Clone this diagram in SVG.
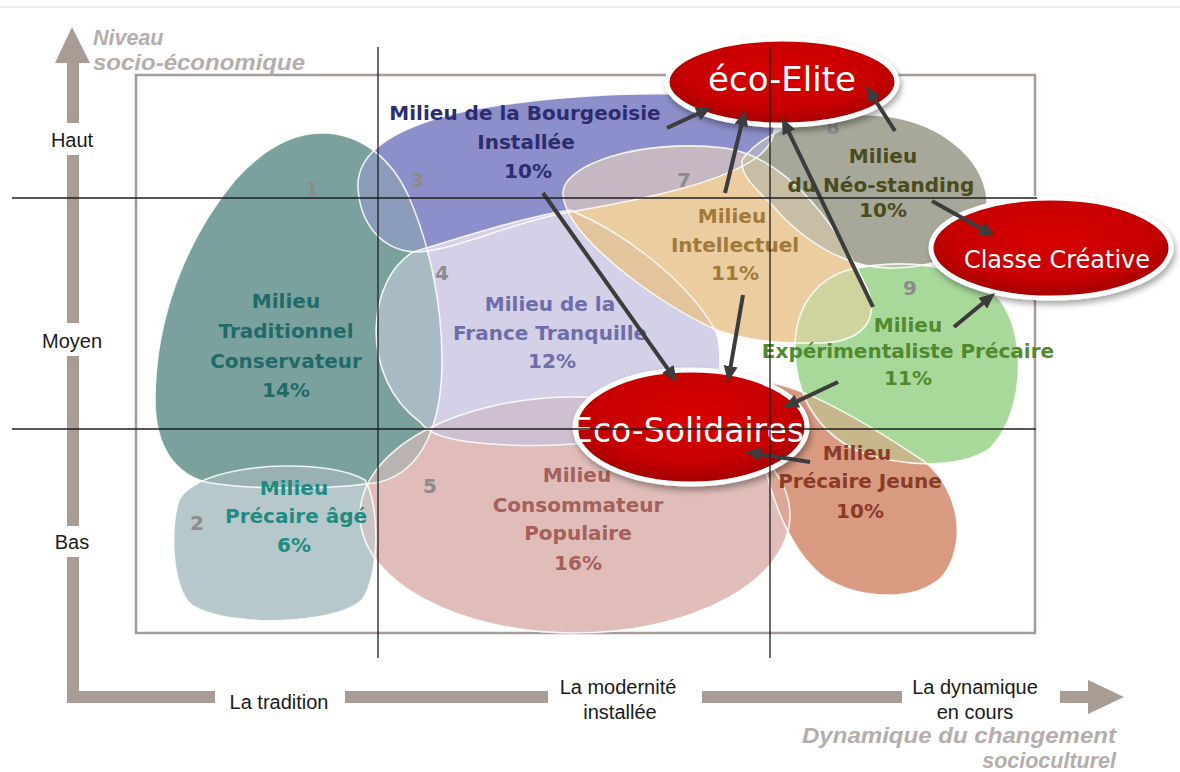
<svg xmlns="http://www.w3.org/2000/svg" xmlns:xlink="http://www.w3.org/1999/xlink" width="1180" height="772" viewBox="0 0 1180 772">
<style>
.lbl{font-family:"DejaVu Sans","Liberation Sans",sans-serif;font-weight:bold;font-size:20px;text-anchor:middle}
.num{font-family:"DejaVu Sans","Liberation Sans",sans-serif;font-weight:bold;font-size:20px;text-anchor:middle;fill:#8c8c8c}
.ax{font-family:"Liberation Sans",Arial,sans-serif;font-size:20px;fill:#1a1a1a;text-anchor:middle}
.axt{font-family:"Liberation Sans",Arial,sans-serif;font-weight:bold;font-style:italic;font-size:21.5px;fill:#b5adab}
.big{font-family:"DejaVu Sans","Liberation Sans",sans-serif;fill:#fff;text-anchor:middle}
.outline{fill:none;stroke:#fff;stroke-width:1.6;stroke-opacity:0.85}
.red{fill:url(#redg);stroke:#fff;stroke-width:5;filter:url(#sh)}
.axis{fill:#a89c95}
.grid{stroke:#1e1e1e;stroke-width:1.3}
.arrow{stroke:#3c3c3c;stroke-width:4;fill:none;marker-end:url(#ah)}
</style>
<defs>
<radialGradient id="redg" cx="50%" cy="40%" r="60%">
<stop offset="0" stop-color="#d80000"/>
<stop offset="0.7" stop-color="#c60000"/>
<stop offset="1" stop-color="#a00000"/>
</radialGradient>
<filter id="sh" x="-20%" y="-30%" width="140%" height="170%">
<feDropShadow dx="2" dy="4" stdDeviation="3" flood-color="#000" flood-opacity="0.35"/>
</filter>
<marker id="ah" viewBox="0 0 16 14" refX="4" refY="7" markerWidth="16" markerHeight="14" markerUnits="userSpaceOnUse" orient="auto">
<path d="M0,0 L16,7 L0,14 Z" fill="#3c3c3c"/>
</marker>
<path id="s1" d="M322,133 C362,133 392,160 408,195 C428,240 442,300 442,360 C442,420 425,470 380,482 C330,490 250,490 205,482 C170,472 155,440 155,400 C155,320 185,240 235,180 C262,150 292,133 322,133 Z"/>
<path id="s2" d="M200,482 C240,462 330,460 365,480 C380,505 380,575 362,600 C335,625 230,628 193,606 C170,590 170,520 180,498 C185,490 192,486 200,482 Z"/>
<path id="s3" d="M358,188 C356,150 400,125 470,110 C560,94 680,88 745,100 C780,108 782,135 760,155 C725,183 640,200 570,212 C510,222 460,250 415,252 C380,250 360,222 358,188 Z"/>
<path id="s4" d="M413,252 C460,238 520,218 570,210 C630,235 690,285 715,330 C722,345 722,380 712,400 C680,440 560,452 470,442 C440,438 428,432 420,422 C390,400 376,365 376,330 C377,292 392,265 413,252 Z"/>
<ellipse id="s5" cx="575" cy="515" rx="215" ry="118"/>
<path id="s6" d="M762,382 C800,383 870,425 925,462 C960,490 968,545 942,577 C915,602 860,600 825,578 C790,552 772,500 762,455 C756,420 755,390 762,382 Z"/>
<path id="s7" d="M563,195 C560,165 640,138 725,148 C790,158 840,230 868,290 C880,322 860,342 820,343 C770,344 735,338 712,328 C650,298 566,235 563,195 Z"/>
<path id="s8" d="M742,160 C765,128 820,113 872,115 C940,118 985,160 987,200 C988,240 955,266 895,268 C845,270 800,238 772,205 C755,188 740,175 742,160 Z"/>
<path id="s9" d="M848,270 C900,258 965,262 1000,300 C1030,340 1022,420 988,450 C955,470 900,466 860,452 C815,432 795,392 795,348 C795,308 815,280 848,270 Z"/>
<clipPath id="c1"><use xlink:href="#s1"/></clipPath>
<clipPath id="c3"><use xlink:href="#s3"/></clipPath>
<clipPath id="c4"><use xlink:href="#s4"/></clipPath>
<clipPath id="c5"><use xlink:href="#s5"/></clipPath>
<clipPath id="c7"><use xlink:href="#s7"/></clipPath>
<clipPath id="c8"><use xlink:href="#s8"/></clipPath>
<clipPath id="c9"><use xlink:href="#s9"/></clipPath>
</defs>
<rect width="1180" height="772" fill="#fff"/>
<line x1="0" y1="7" x2="1180" y2="7" stroke="#dcdcdc" stroke-width="1"/>
<g id="frame">
<rect x="136" y="75" width="899" height="558" fill="none" stroke="#a59d99" stroke-width="2.5"/>
</g>
<g id="axes">
<polygon class="axis" points="72,27 90,63 55,63"/>
<rect class="axis" x="67" y="62" width="12" height="61"/>
<rect class="axis" x="67" y="155" width="12" height="168"/>
<rect class="axis" x="67" y="356" width="12" height="170"/>
<rect class="axis" x="67" y="557" width="12" height="146"/>
<rect class="axis" x="67" y="691" width="148" height="12"/>
<rect class="axis" x="345" y="691" width="203" height="12"/>
<rect class="axis" x="702" y="691" width="200" height="12"/>
<rect class="axis" x="1060" y="691" width="30" height="12"/>
<polygon class="axis" points="1088,680 1124,697 1088,714"/>
<text class="axt" x="93" y="45">Niveau</text>
<text class="axt" x="93" y="70" textLength="212" lengthAdjust="spacingAndGlyphs">socio-économique</text>
<text class="ax" x="72" y="147">Haut</text>
<text class="ax" x="72" y="348">Moyen</text>
<text class="ax" x="72" y="549">Bas</text>
<text class="ax" x="279" y="709">La tradition</text>
<text class="ax" x="618" y="694">La modernité</text>
<text class="ax" x="620" y="719">installée</text>
<text class="ax" x="975" y="694">La dynamique</text>
<text class="ax" x="975" y="719">en cours</text>
<text class="axt" x="802" y="743" textLength="314" lengthAdjust="spacingAndGlyphs">Dynamique du changement</text>
<text class="axt" x="1116" y="768" text-anchor="end">socioculturel</text>
</g>
<g id="areas">
<use xlink:href="#s1" fill="#7ba19e"/>
<use xlink:href="#s3" fill="#8d8fcb"/>
<use xlink:href="#s4" fill="#d3d0e7"/>
<use xlink:href="#s5" fill="#e0bdb9"/>
<use xlink:href="#s2" fill="#b7c8cc"/>
<use xlink:href="#s7" fill="#ebcd9f"/>
<use xlink:href="#s8" fill="#a7a899"/>
<use xlink:href="#s9" fill="#a9d89b"/>
<use xlink:href="#s6" fill="#d99a82"/>
</g>
<g id="overlaps">
<use xlink:href="#s3" clip-path="url(#c1)" fill="#8a9cb9"/>
<use xlink:href="#s4" clip-path="url(#c1)" fill="#a8bbc5"/>
<use xlink:href="#s5" clip-path="url(#c1)" fill="#b9b3b1"/>
<use xlink:href="#s5" clip-path="url(#c4)" fill="#cfc0d1"/>
<use xlink:href="#s2" clip-path="url(#c1)" fill="#98b1b3"/>
<use xlink:href="#s2" clip-path="url(#c5)" fill="#cbc3c4"/>
<use xlink:href="#s7" clip-path="url(#c3)" fill="#c6b8c3"/>
<use xlink:href="#s7" clip-path="url(#c4)" fill="#e2c59c"/>
<use xlink:href="#s8" clip-path="url(#c3)" fill="#adaec6"/>
<use xlink:href="#s8" clip-path="url(#c7)" fill="#c8bea6"/>
<use xlink:href="#s9" clip-path="url(#c7)" fill="#cfd49f"/>
<use xlink:href="#s9" clip-path="url(#c8)" fill="#b3c4a2"/>
<use xlink:href="#s6" clip-path="url(#c5)" fill="#dca797"/>
<use xlink:href="#s6" clip-path="url(#c9)" fill="#c6b88b"/>
</g>
<g id="outlines">
<use xlink:href="#s1" class="outline"/>
<use xlink:href="#s2" class="outline"/>
<use xlink:href="#s3" class="outline"/>
<use xlink:href="#s4" class="outline"/>
<use xlink:href="#s5" class="outline"/>
<use xlink:href="#s6" class="outline"/>
<use xlink:href="#s7" class="outline"/>
<use xlink:href="#s8" class="outline"/>
<use xlink:href="#s9" class="outline"/>
</g>
<g id="milieu-1">
<text class="num" x="312" y="196">1</text>
<text class="lbl" fill="#1e6b68" x="286" y="308">Milieu</text>
<text class="lbl" fill="#1e6b68" x="286" y="338">Traditionnel</text>
<text class="lbl" fill="#1e6b68" x="286" y="368">Conservateur</text>
<text class="lbl" fill="#1e6b68" x="286" y="397">14%</text>
</g>
<g id="milieu-2">
<text class="num" x="197" y="530">2</text>
<text class="lbl" fill="#1f8c84" x="294" y="495">Milieu</text>
<text class="lbl" fill="#1f8c84" x="296" y="523">Précaire âgé</text>
<text class="lbl" fill="#1f8c84" x="294" y="552">6%</text>
</g>
<g id="milieu-3">
<text class="num" x="417" y="187">3</text>
<text class="lbl" fill="#2d2c6e" x="525" y="120">Milieu de la Bourgeoisie</text>
<text class="lbl" fill="#2d2c6e" x="526" y="149">Installée</text>
<text class="lbl" fill="#2d2c6e" x="528" y="178">10%</text>
</g>
<g id="milieu-4">
<text class="num" x="442" y="280">4</text>
<text class="lbl" fill="#6e6daa" x="550" y="311">Milieu de la</text>
<text class="lbl" fill="#6e6daa" x="550" y="340">France Tranquille</text>
<text class="lbl" fill="#6e6daa" x="552" y="368">12%</text>
</g>
<g id="milieu-5">
<text class="num" x="430" y="493">5</text>
<text class="lbl" fill="#a6605a" x="577" y="482">Milieu</text>
<text class="lbl" fill="#a6605a" x="578" y="512">Consommateur</text>
<text class="lbl" fill="#a6605a" x="578" y="540">Populaire</text>
<text class="lbl" fill="#a6605a" x="578" y="570">16%</text>
</g>
<g id="milieu-6">
<text class="lbl" fill="#8b3a28" x="857" y="460">Milieu</text>
<text class="lbl" fill="#8b3a28" x="860" y="488">Précaire Jeune</text>
<text class="lbl" fill="#8b3a28" x="860" y="518">10%</text>
</g>
<g id="milieu-7">
<text class="num" x="684" y="187">7</text>
<text class="lbl" fill="#a07a3a" x="732" y="223">Milieu</text>
<text class="lbl" fill="#a07a3a" x="735" y="252">Intellectuel</text>
<text class="lbl" fill="#a07a3a" x="735" y="280">11%</text>
</g>
<g id="milieu-8">
<text class="num" x="833" y="134">8</text>
<text class="lbl" fill="#4b4b1e" x="883" y="163">Milieu</text>
<text class="lbl" fill="#4b4b1e" x="881" y="192">du Néo-standing</text>
<text class="lbl" fill="#4b4b1e" x="883" y="217">10%</text>
</g>
<g id="milieu-9">
<text class="num" x="910" y="295">9</text>
<text class="lbl" fill="#4f8a2c" x="908" y="332">Milieu</text>
<text class="lbl" fill="#4f8a2c" x="908" y="358">Expérimentaliste Précaire</text>
<text class="lbl" fill="#4f8a2c" x="908" y="385">11%</text>
</g>
<g id="eco-elite">
<ellipse class="red" cx="782" cy="82" rx="115" ry="43"/>
<text class="big" x="782" y="91" font-size="34">éco-Elite</text>
</g>
<g id="classe-creative">
<ellipse class="red" cx="1051" cy="248" rx="120" ry="50"/>
<text class="big" x="1057" y="268" font-size="24">Classe Créative</text>
</g>
<g id="eco-solidaires">
<ellipse class="red" cx="691" cy="427" rx="116" ry="57"/>
<text class="big" x="688" y="442" font-size="33">Eco-Solidaires</text>
</g>
<g id="connectors">
<line class="arrow" x1="667" y1="128" x2="701.1" y2="112.1"/>
<line class="arrow" x1="725" y1="193" x2="742.2" y2="121.7"/>
<line class="arrow" x1="895" y1="131" x2="872.5" y2="96.1"/>
<line class="arrow" x1="873" y1="307" x2="787.2" y2="128.8"/>
<line class="arrow" x1="932" y1="201" x2="984.5" y2="230.2"/>
<line class="arrow" x1="954" y1="327" x2="985.8" y2="300.7"/>
<line class="arrow" x1="543" y1="193" x2="670.1" y2="372.2"/>
<line class="arrow" x1="743" y1="295" x2="730" y2="370.2"/>
<line class="arrow" x1="838" y1="382" x2="793.8" y2="402.9"/>
<line class="arrow" x1="810" y1="462" x2="756.9" y2="453.8"/>
</g>
<g id="grid">
<line class="grid" x1="378" y1="47" x2="378" y2="658"/>
<line class="grid" x1="770" y1="47" x2="770" y2="658"/>
<line class="grid" x1="12" y1="198" x2="1037" y2="198"/>
<line class="grid" x1="12" y1="429" x2="1036" y2="429"/>
</g>
</svg>
